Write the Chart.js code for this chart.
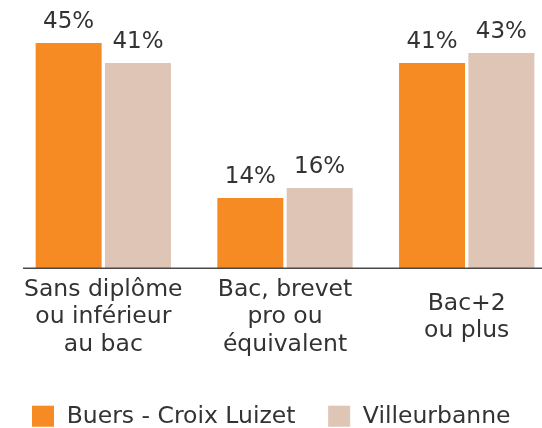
<!DOCTYPE html>
<html>
<head>
<meta charset="utf-8">
<script src="https://cdn.jsdelivr.net/npm/chart.js@4.4.1/dist/chart.umd.min.js"></script>
<style>
  html, body { margin: 0; padding: 0; background: #ffffff; }
  #wrap { width: 542px; height: 428px; }
</style>
</head>
<body>
<div id="wrap"><canvas id="c" width="542" height="428"></canvas></div>
<script>
const categories = [
  ["Sans diplôme", "ou inférieur", "au bac"],
  ["Bac, brevet", "pro ou", "équivalent"],
  ["Bac+2", "ou plus"]
];
const seriesNames = ["Buers - Croix Luizet", "Villeurbanne"];
const buersValues = [45, 14, 41];
const villeurbanneValues = [41, 16, 43];
const seriesColors = ["#F58B22", "#DFC5B5"];

const FONT = "'DejaVu Sans', sans-serif";
const TEXT = "#333333";

const valueLabels = {
  id: 'valueLabels',
  afterDatasetsDraw(chart) {
    const ctx = chart.ctx;
    ctx.save();
    ctx.font = "23px " + FONT;
    ctx.fillStyle = TEXT;
    ctx.textAlign = 'center';
    ctx.textBaseline = 'alphabetic';
    chart.data.datasets.forEach((ds, di) => {
      const meta = chart.getDatasetMeta(di);
      meta.data.forEach((bar, i) => {
        ctx.fillText(ds.data[i] + '%', bar.x, bar.y - 14.7);
      });
    });
    ctx.restore();
  }
};

const axisLine = {
  id: 'axisLine',
  afterDatasetsDraw(chart) {
    const ctx = chart.ctx;
    const y = chart.scales.y.getPixelForValue(0) + 0.3;
    ctx.save();
    ctx.strokeStyle = '#4a4a4a';
    ctx.lineWidth = 1.5;
    ctx.beginPath();
    ctx.moveTo(23, y);
    ctx.lineTo(542, y);
    ctx.stroke();
    ctx.restore();
  }
};

const customLegend = {
  id: 'customLegend',
  afterDraw(chart) {
    const ctx = chart.ctx;
    ctx.save();
    ctx.font = "23.5px " + FONT;
    ctx.textBaseline = 'alphabetic';
    ctx.textAlign = 'left';
    let x = 32;
    const boxTop = 405.7, boxW = 22, boxH = 21, textGap = 12.7, itemGap = 32.7, baseline = 422.7;
    chart.data.datasets.forEach((ds) => {
      ctx.fillStyle = ds.backgroundColor;
      ctx.fillRect(x, boxTop, boxW, boxH);
      ctx.fillStyle = TEXT;
      const tx = x + boxW + textGap;
      ctx.fillText(ds.label, tx, baseline);
      x = tx + ctx.measureText(ds.label).width + itemGap;
    });
    ctx.restore();
  }
};

new Chart(document.getElementById('c'), {
  type: 'bar',
  data: {
    labels: categories,
    datasets: [
      { label: seriesNames[0], data: buersValues, backgroundColor: seriesColors[0], clip: false },
      { label: seriesNames[1], data: villeurbanneValues, backgroundColor: seriesColors[1], clip: false }
    ]
  },
  options: {
    responsive: false,
    animation: false,
    devicePixelRatio: 1,
    categoryPercentage: 0.763,
    barPercentage: 0.952,
    layout: { padding: { left: 103.3, right: 75.3, top: 18, bottom: 0 } },
    plugins: {
      legend: { display: false },
      tooltip: { enabled: false }
    },
    scales: {
      x: {
        offset: false,
        grid: { display: false, drawTicks: false },
        border: { display: false },
        ticks: {
          autoSkip: false,
          maxRotation: 0,
          minRotation: 0,
          crossAlign: 'center',
          padding: 22,
          color: TEXT,
          font: { family: FONT, size: 23.5, lineHeight: 1.162 }
        },
        afterFit(scale) { scale.height = 160; }
      },
      y: {
        display: false,
        min: 0,
        max: 50
      }
    }
  },
  plugins: [valueLabels, axisLine, customLegend]
});
</script>
</body>
</html>
